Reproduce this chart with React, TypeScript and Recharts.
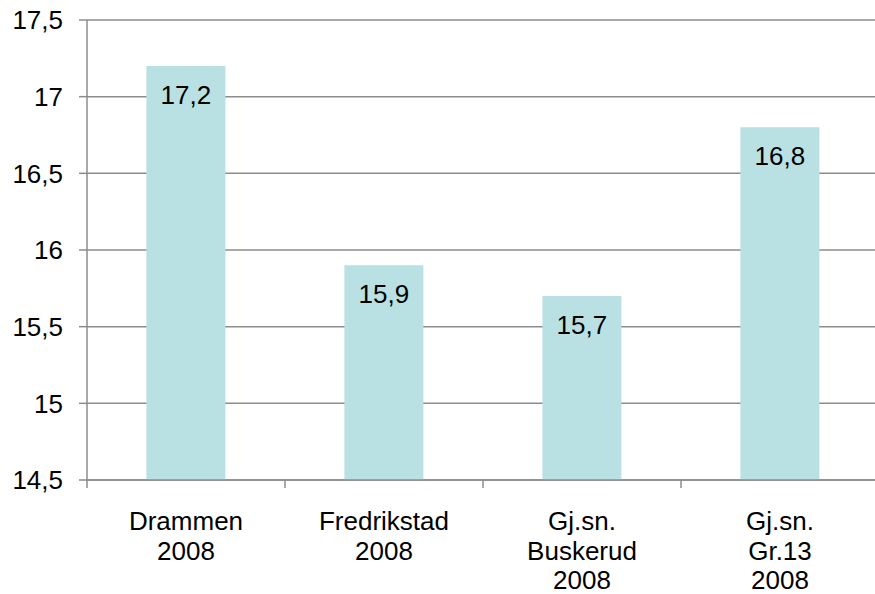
import { BarChart, Bar, XAxis, YAxis, CartesianGrid, LabelList } from 'recharts';

const categories = ['Drammen\n2008', 'Fredrikstad\n2008', 'Gj.sn.\nBuskerud\n2008', 'Gj.sn.\nGr.13\n2008'];
const values = [17.2, 15.9, 15.7, 16.8];
const yTicks = [14.5, 15, 15.5, 16, 16.5, 17, 17.5];

const data = categories.map((name, i) => ({ name, value: values[i] }));

const CHART_W = 880;
const CHART_H = 594;
const Y_AXIS_W = 87;
const X_AXIS_H = 114;
const MARGIN = { top: 20, right: 1, left: 0, bottom: 0 };
const BAND = (CHART_W - Y_AXIS_W - MARGIN.left - MARGIN.right) / categories.length;

const FONT = '"Liberation Sans", Arial, sans-serif';
const FONT_SIZE = 26;
const GRID = '#8c8c8c';
const BAR = '#b9e0e3';

const fmt = (v: number) => String(v).replace('.', ',');

// category label split over several lines, plus tick marks on the band edges
function CategoryTick(props: any) {
  const { x, y, payload, index } = props;
  const lines = String(payload.value).split('\n');
  return (
    <g>
      <line x1={x - BAND / 2} x2={x - BAND / 2} y1={y} y2={y + 8} stroke={GRID} strokeWidth={1.5} />
      {index === categories.length - 1 && (
        <line x1={x + BAND / 2} x2={x + BAND / 2} y1={y} y2={y + 8} stroke={GRID} strokeWidth={1.5} />
      )}
      <text x={x} y={y + 50} textAnchor="middle" fontFamily={FONT} fontSize={FONT_SIZE} fill="#000">
        {lines.map((l, i) => (
          <tspan key={i} x={x} dy={i === 0 ? 0 : 29.5}>
            {l}
          </tspan>
        ))}
      </text>
    </g>
  );
}

function ValueLabel(props: any) {
  const { x, y, width, value } = props;
  return (
    <text x={x + width / 2} y={y + 38} textAnchor="middle" fontFamily={FONT} fontSize={FONT_SIZE} fill="#000">
      {fmt(value)}
    </text>
  );
}

export default function App() {
  return (
    <div style={{ position: 'absolute', left: 0, top: 0, width: 875, height: 594, overflow: 'hidden', background: '#fff' }}>
      <BarChart width={CHART_W} height={CHART_H} data={data} margin={MARGIN} barCategoryGap="30%">
        <CartesianGrid vertical={false} stroke={GRID} strokeWidth={1.5} />
        <XAxis
          dataKey="name"
          height={X_AXIS_H}
          interval={0}
          tickLine={false}
          tickSize={0}
          tickMargin={0}
          axisLine={{ stroke: GRID, strokeWidth: 1.5 }}
          tick={<CategoryTick />}
        />
        <YAxis
          width={Y_AXIS_W}
          domain={[14.5, 17.5]}
          ticks={yTicks}
          interval={0}
          tickFormatter={fmt}
          tickSize={8}
          tickMargin={16}
          tickLine={{ stroke: GRID, strokeWidth: 1.5 }}
          axisLine={{ stroke: GRID, strokeWidth: 1.5 }}
          tick={{ fontFamily: FONT, fontSize: FONT_SIZE, fill: '#000' }}
        />
        <Bar dataKey="value" fill={BAR} isAnimationActive={false}>
          <LabelList dataKey="value" content={<ValueLabel />} />
        </Bar>
      </BarChart>
    </div>
  );
}
